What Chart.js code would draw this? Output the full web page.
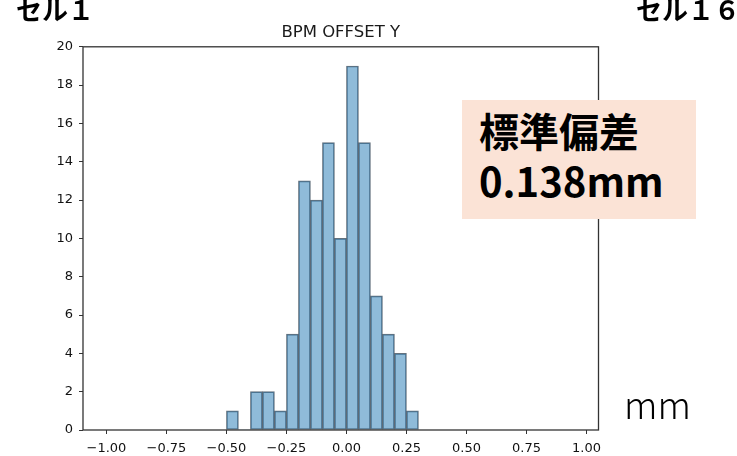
<!DOCTYPE html>
<html>
<head>
<meta charset="utf-8">
<script src="https://cdn.jsdelivr.net/npm/chart.js@4"></script>
<style>
  html, body { margin: 0; padding: 0; background: #fff; }
  #wrap { position: relative; width: 737px; height: 456px; overflow: hidden; }
  #c { position: absolute; left: 0; top: 0; }
  .cell { position: absolute; top: -4px; font: bold 26px "Noto Sans CJK JP", sans-serif; line-height: 1; white-space: nowrap; color: #000; }
  #note { position: absolute; left: 462px; top: 100px; width: 234px; height: 119px; background: #fbe3d6;
          box-sizing: border-box; padding: 4.6px 0 0 17px; font: bold 40px "Noto Sans CJK JP", sans-serif; line-height: 50px; color: #000; white-space: nowrap; }
  #unit { position: absolute; left: 624px; top: 385px; font: 300 37px "Noto Sans CJK JP", sans-serif; line-height: 1; color: #000; }
</style>
</head>
<body>
<div id="wrap">
  <canvas id="c" width="737" height="456"></canvas>
  <div class="cell" style="left:16px">セル１</div>
  <div class="cell" style="left:636px">セル１６</div>
  <div id="note">標準偏差<br>0.138mm</div>
  <div id="unit">mm</div>
</div>
<script>
// ヒストグラムのデータ (ビン幅 0.05mm)
const binStarts = [-0.50, -0.45, -0.40, -0.35, -0.30, -0.25, -0.20, -0.15, -0.10, -0.05, 0.00, 0.05, 0.10, 0.15, 0.20, 0.25];
const counts    = [1, 0, 2, 2, 1, 5, 13, 12, 15, 10, 19, 15, 7, 5, 4, 1];
const binWidth = 0.05;
const xTicks = [-1.00, -0.75, -0.50, -0.25, 0.00, 0.25, 0.50, 0.75, 1.00];
const yTicks = [0, 2, 4, 6, 8, 10, 12, 14, 16, 18, 20];
const chartTitle = 'BPM OFFSET Y';
const xMin = -1.0975, xMax = 1.05;
const yMin = 0, yMax = 20;

const tickFont = { family: 'DejaVu Sans', size: 13 };

const fmtX = v => (v < 0 ? '\u2212' : '') + Math.abs(v).toFixed(2);

// 枠線 (matplotlib風に四辺)
const frame = {
    id: 'frame',
    afterDatasetsDraw(chart) {
        const a = chart.chartArea;
        const ctx = chart.ctx;
        ctx.save();
        ctx.strokeStyle = '#333';
        ctx.lineWidth = 1.3;
        ctx.strokeRect(a.left, a.top, a.right - a.left, a.bottom - a.top);
        ctx.restore();
    }
};

new Chart(document.getElementById('c'), {
    type: 'bar',
    data: {
        datasets: [{
            data: binStarts.map((s, i) => ({ x: s + binWidth / 2, y: counts[i] })),
            backgroundColor: 'rgba(31, 119, 180, 0.5)',
            borderColor: 'rgba(40, 58, 75, 0.72)',
            borderWidth: counts.map(c => c ? 1 : 0),
            borderSkipped: false,
            barPercentage: 1,
            categoryPercentage: 1
        }]
    },
    options: {
        responsive: false,
        animation: false,
        layout: { padding: { left: 43, right: 138.5, top: 23, bottom: 0 } },
        plugins: {
            legend: { display: false },
            tooltip: { enabled: false },
            title: {
                display: true,
                fullSize: false,
                text: chartTitle,
                color: '#1a1a1a',
                font: { family: 'DejaVu Sans', size: 16.5, weight: 'normal' },
                padding: { top: 0, bottom: 4 }
            }
        },
        scales: {
            x: {
                type: 'linear',
                min: xMin,
                max: xMax,
                offset: false,
                afterBuildTicks: s => { s.ticks = xTicks.map(v => ({ value: v })); },
                afterFit: s => { s.height = 26; },
                ticks: { color: '#111', font: tickFont, padding: 7, maxRotation: 0, autoSkip: false, callback: v => fmtX(v) },
                grid: { offset: false, drawOnChartArea: false, drawTicks: true, tickLength: 4, tickColor: '#333' },
                border: { display: false }
            },
            y: {
                min: yMin,
                max: yMax,
                afterBuildTicks: s => { s.ticks = yTicks.map(v => ({ value: v })); },
                afterFit: s => { s.width = 40; },
                ticks: { color: '#111', font: tickFont, padding: 6, autoSkip: false },
                grid: { drawOnChartArea: false, drawTicks: true, tickLength: 4, tickColor: '#333' },
                border: { display: false }
            }
        }
    },
    plugins: [frame]
});
</script>
</body>
</html>
